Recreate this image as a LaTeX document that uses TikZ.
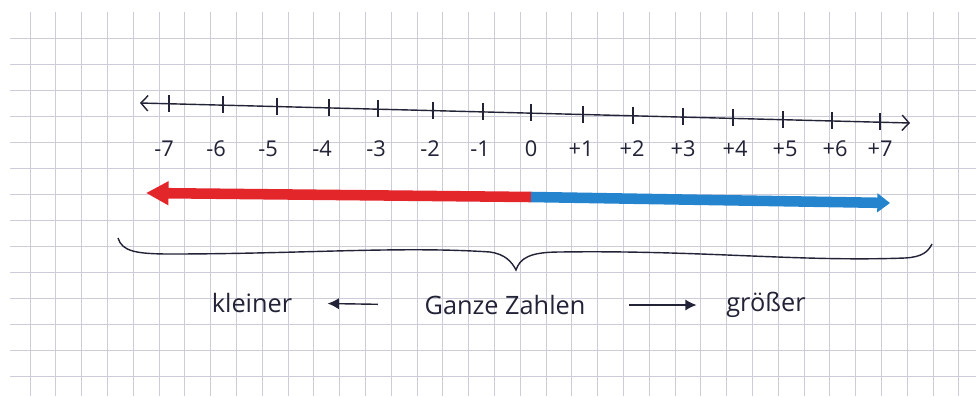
\documentclass[tikz,border=0pt]{standalone}
\usepackage{fontspec}
\setmainfont{Open Sans}
\usetikzlibrary{arrows.meta, positioning, calc}

\definecolor{gridline}{RGB}{205,204,218}
\definecolor{ink}{RGB}{35,35,55}
\definecolor{redpen}{RGB}{226,38,42}
\definecolor{bluepen}{RGB}{36,132,206}

\begin{document}
\begin{tikzpicture}[x=0.025cm, y=-0.025cm,
    every node/.style={text=ink},
    numlabel/.style={font=\fontsize{15.5}{15.5}\selectfont, inner sep=0pt},
    wordlabel/.style={font=\fontsize{18}{18}\selectfont, inner sep=1pt},
    axis/.style={ink, line width=1pt, {Straight Barb[length=5pt, width=11pt]}-{Straight Barb[length=5pt, width=11pt]}},
    tick/.style={ink, line width=1.1pt},
    redarrow/.style={redpen, line width=7.5pt, -{Triangle[length=16pt, width=16pt]}},
    bluearrow/.style={bluepen, line width=7.5pt, -{Triangle[length=9pt, width=13pt]}},
    smallarrow/.style={ink, line width=1pt, -{Latex[length=8pt, width=8pt]}}
]
    % Paper
    \useasboundingbox (0,0) rectangle (976,396);
    \fill[white] (0,0) rectangle (976,396);

    % Grid
    \foreach \k in {0,...,36}
        \draw[gridline, line width=0.5pt] (30+25.8*\k,12) -- (30+25.8*\k,396);
    \foreach \k in {0,...,14}
        \draw[gridline, line width=0.5pt] (10,38+26*\k) -- (976,38+26*\k);

    % Number line
    \coordinate (axl) at (140,103);
    \coordinate (axr) at (910,123);
    \draw[axis] (axl) -- (axr);

    % Ticks and numbers
    \foreach \n/\x/\lx in {-7/169/164, -6/223/216, -5/277/268, -4/329/322, -3/378/376,
                           -2/433/430, -1/483/480, 0/531/531, +1/583/581, +2/633/632,
                           +3/683/683, +4/733/735, +5/783/785, +6/832/835, +7/880/880} {
        \pgfmathsetmacro{\y}{103+(\x-140)*20/770}
        \coordinate (t\x) at (\x,\y);
        \draw[tick] ($(t\x)+(0,-9)$) -- ($(t\x)+(0,8)$);
        \node[numlabel] (n\x) at (\lx,149) {\n};
    }

    % Coloured rays
    \coordinate (zero) at (531,197);
    \coordinate (redtip) at (146,193);
    \coordinate (bluetip) at (890,203);
    \draw[redarrow] (zero) -- (redtip);
    \draw[bluearrow] (zero) -- (bluetip);

    % Brace
    \draw[ink, line width=1pt] (118,238) .. controls (122,251) and (135,254) .. (170,254)
        .. controls (300,254) and (400,246) .. (490,252)
        .. controls (505,254) and (512,262) .. (516,270)
        .. controls (520,258) and (530,252) .. (560,252)
        .. controls (700,250) and (800,262) .. (905,258)
        .. controls (922,257) and (928,252) .. (932,244);

    % Words
    \node[wordlabel] (ganz) at (505,305) {Ganze Zahlen};
    \node[wordlabel] (klein) at (252,303) {kleiner};
    \node[wordlabel] (gross) at (766,305) {größer};

    \draw[smallarrow, shorten <=32pt, shorten >=24pt] (ganz.west) -- (klein.east);
    \draw[smallarrow, shorten <=30pt, shorten >=20pt] (ganz.east) -- (gross.west);

\end{tikzpicture}
\end{document}
